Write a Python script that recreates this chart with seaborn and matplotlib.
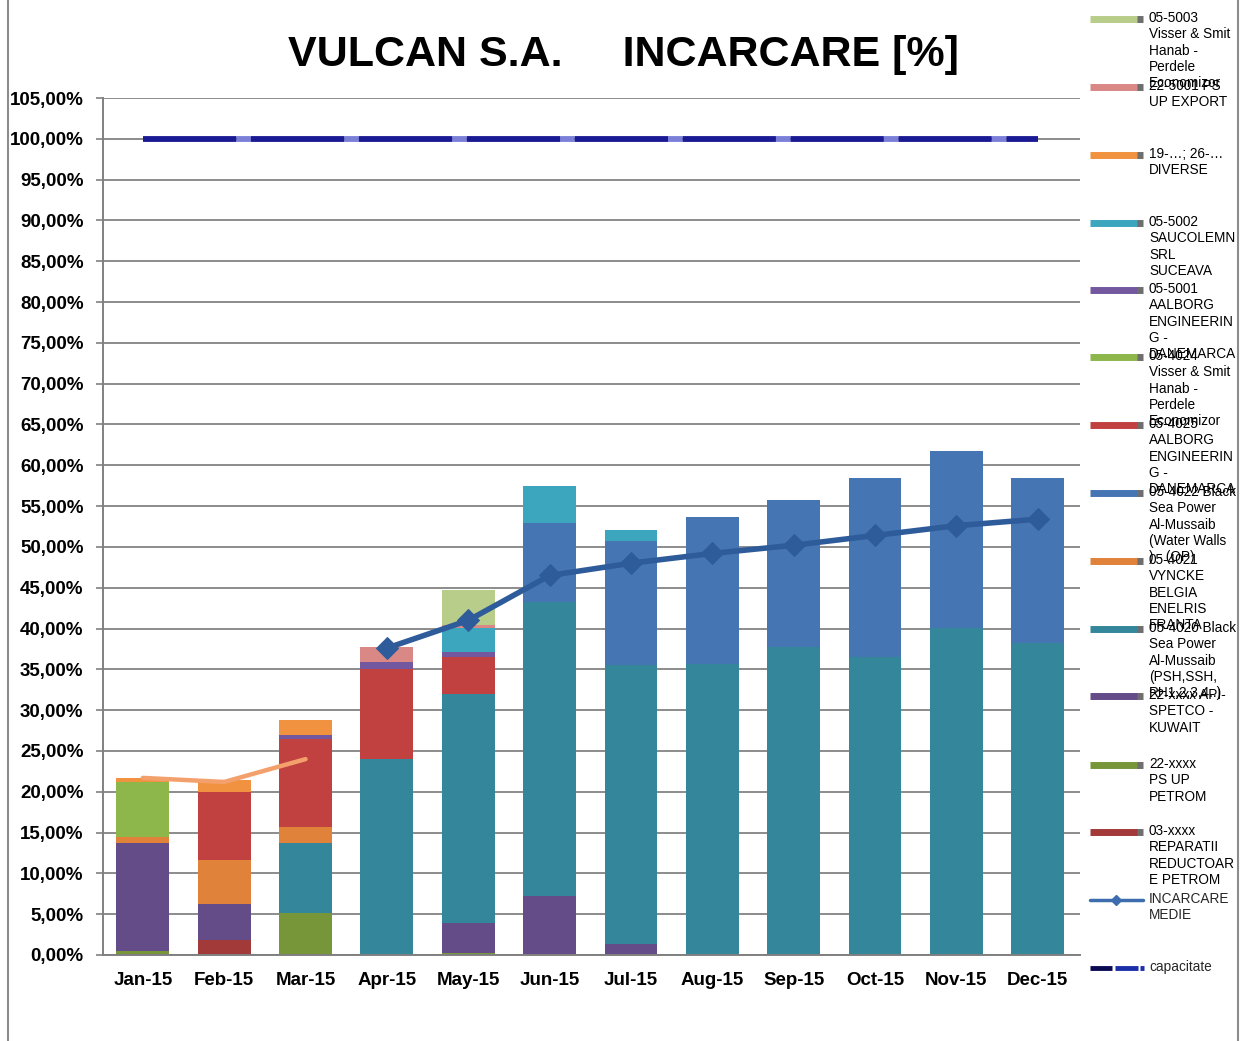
import matplotlib
matplotlib.use("Agg")
import matplotlib.pyplot as plt
import numpy as np
import pandas as pd
import seaborn as sns
from matplotlib.lines import Line2D

# ---------------- data ----------------
months = ["Jan-15", "Feb-15", "Mar-15", "Apr-15", "May-15", "Jun-15",
          "Jul-15", "Aug-15", "Sep-15", "Oct-15", "Nov-15", "Dec-15"]

# stacked series, bottom -> top
rep03 = [0, 1.8, 0, 0, 0, 0, 0, 0, 0, 0, 0, 0]
petrom22 = [0.5, 0, 5.1, 0, 0.3, 0, 0, 0, 0, 0, 0, 0]
apispetco22 = [13.2, 4.4, 0, 0, 3.6, 7.2, 1.4, 0, 0, 0, 0, 0]
bsp4020 = [0, 0, 8.6, 24.0, 28.1, 36.0, 34.1, 35.7, 37.7, 36.5, 40.1, 38.2]
vyncke4021 = [0.8, 5.4, 2.0, 0, 0, 0, 0, 0, 0, 0, 0, 0]
bsp4022 = [0, 0, 0, 0, 0, 9.7, 15.2, 18.0, 18.1, 21.9, 21.6, 20.3]
aalborg4025 = [0, 8.4, 10.8, 11.1, 4.5, 0, 0, 0, 0, 0, 0, 0]
visser4024 = [6.7, 0, 0, 0, 0, 0, 0, 0, 0, 0, 0, 0]
aalborg5001 = [0, 0, 0.4, 0.8, 0.6, 0, 0, 0, 0, 0, 0, 0]
sauc5002 = [0, 0, 0, 0, 3.0, 4.6, 1.4, 0, 0, 0, 0, 0]
diverse = [0.5, 1.5, 1.9, 0, 0, 0, 0, 0, 0, 0, 0, 0]
psup5001 = [0, 0, 0, 1.8, 0.3, 0, 0, 0, 0, 0, 0, 0]
visser5003 = [0, 0, 0, 0, 4.3, 0, 0, 0, 0, 0, 0, 0]

incarcare_medie = [np.nan, np.nan, np.nan, 37.6, 41.0, 46.5, 48.0, 49.2, 50.2, 51.4, 52.6, 53.4]
orange_line = [21.7, 21.2, 24.0, np.nan, np.nan, np.nan, np.nan, np.nan, np.nan, np.nan, np.nan, np.nan]
capacitate = [100] * 12

y_ticks = list(range(0, 106, 5))

stack = [
    ("03-xxxx\nREPARATII\nREDUCTOAR\nE PETROM", rep03, "#A33A3A"),
    ("22-xxxx\nPS UP\nPETROM", petrom22, "#77963A"),
    ("22-xxxx API-\nSPETCO -\nKUWAIT", apispetco22, "#634C87"),
    ("05-4020 Black\nSea Power\nAl-Mussaib\n(PSH,SSH,\nRH1,2,3,4..)", bsp4020, "#34879B"),
    ("05-4021\nVYNCKE\nBELGIA\nENELRIS\nFRANTA", vyncke4021, "#E0823A"),
    ("05-4022 Black\nSea Power\nAl-Mussaib\n(Water Walls\n) - (OP)", bsp4022, "#4675B4"),
    ("05-4025\nAALBORG\nENGINEERIN\nG -\nDANEMARCA", aalborg4025, "#C0413F"),
    ("05-4024\nVisser & Smit\nHanab -\nPerdele\nEconomizor", visser4024, "#8DB64B"),
    ("05-5001\nAALBORG\nENGINEERIN\nG -\nDANEMARCA", aalborg5001, "#7358A0"),
    ("05-5002\nSAUCOLEMN\nSRL\nSUCEAVA", sauc5002, "#3DA6BF"),
    ("19-…; 26-…\nDIVERSE", diverse, "#F0923F"),
    ("22-5001 PS\nUP EXPORT", psup5001, "#D98886"),
    ("05-5003\nVisser & Smit\nHanab -\nPerdele\nEconomizor", visser5003, "#B8CD8A"),
]

# ---------------- style ----------------
sns.set_theme(style="white")
plt.rcParams["font.family"] = ["Liberation Sans", "DejaVu Sans"]

W, H = 1243, 1041
fig = plt.figure(figsize=(W / 100, H / 100), dpi=100)
fig.patch.set_facecolor("white")

ax = fig.add_axes([103 / W, 1 - 955 / H, (1080 - 103) / W, (955 - 98) / H])
ax.set_facecolor("white")

x = np.arange(len(months))
bottom = np.zeros(len(months))
for label, vals, col in stack:
    v = np.array(vals, dtype=float)
    ax.bar(x, v, width=0.65, bottom=bottom, color=col, linewidth=0, zorder=2)
    bottom += v

df_line = pd.DataFrame({"x": x, "medie": incarcare_medie, "orange": orange_line, "cap": capacitate})

ax.plot(x, df_line["orange"], color="#F4A06C", lw=3.2, zorder=3, solid_capstyle="round")
sns.lineplot(data=df_line, x="x", y="medie", ax=ax, color="#2E5C9A", lw=4,
             marker="D", markersize=11, markeredgecolor="#2E5C9A", zorder=4, legend=False)
ax.plot(x, df_line["cap"], color="#1A1A95", lw=4.2, zorder=4,
        linestyle=(0, (16, 2.5)), gapcolor="#7B7FD8", dash_capstyle="butt")

ax.set_xlim(-0.49, 11.52)
ax.set_ylim(0, 105)
ax.set_yticks(y_ticks)
ax.set_yticklabels([f"{t:.2f}%".replace(".", ",") for t in y_ticks],
                   fontsize=13.5, fontweight="bold", color="black")
ax.set_xticks(x)
ax.set_xticklabels(months, fontsize=13.5, fontweight="bold", color="black")
ax.set_xlabel("")
ax.set_ylabel("")
ax.tick_params(axis="y", length=5, width=1.2, color="#808080", pad=9, left=True)
ax.tick_params(axis="x", length=0, pad=12)
ax.yaxis.grid(True, color="#8C8C8C", lw=1.4, zorder=0)
ax.set_axisbelow(True)
for s in ["top", "right"]:
    ax.spines[s].set_visible(False)
for s in ["left", "bottom"]:
    ax.spines[s].set_color("#808080")
    ax.spines[s].set_linewidth(1.4)

# title
fig.text(623 / W, 1 - 55 / H, "VULCAN S.A.     INCARCARE [%]", ha="center", va="center",
         fontsize=31, fontweight="bold", color="black")

# overlay for legend and chart frame (pixel coordinates)
ov = fig.add_axes([0, 0, 1, 1], zorder=10)
ov.set_xlim(0, W)
ov.set_ylim(H, 0)
ov.axis("off")
ov.patch.set_alpha(0)

ov.add_line(Line2D([8, 8], [0, H], color="#8C8C8C", lw=1.5))
ov.add_line(Line2D([1238, 1238], [0, H], color="#8C8C8C", lw=1.5))

LS = 1.21
leg_y = [19, 87, 155, 223, 290, 357, 425, 493, 561, 629, 696, 765, 832]
for yy, (label, vals, col) in zip(leg_y, stack[::-1]):
    ov.add_line(Line2D([1090, 1138], [yy, yy], color=col, lw=5, solid_capstyle="butt"))
    ov.add_line(Line2D([1137, 1143], [yy, yy], color="#6E6E6E", lw=5, solid_capstyle="butt"))
    ov.text(1149, yy - 8, label, fontsize=9.8, va="top", ha="left", linespacing=LS, color="black")

# INCARCARE MEDIE legend
ov.add_line(Line2D([1090, 1143], [900, 900], color="#3D6DAE", lw=2.5))
ov.plot([1116], [900], marker="D", markersize=5, color="#3D6DAE")
ov.text(1149, 892, "INCARCARE\nMEDIE", fontsize=9.8, va="top", ha="left", linespacing=LS)
# capacitate legend
ov.add_line(Line2D([1090, 1112], [968, 968], color="#0A0A50", lw=3.5, solid_capstyle="butt"))
ov.add_line(Line2D([1115, 1138], [968, 968], color="#1C2FA8", lw=3.5, solid_capstyle="butt"))
ov.add_line(Line2D([1140, 1144], [968, 968], color="#1C2FA8", lw=3.5, solid_capstyle="butt"))
ov.text(1149, 960, "capacitate", fontsize=9.8, va="top", ha="left")

fig.savefig("out.png", dpi=100)
